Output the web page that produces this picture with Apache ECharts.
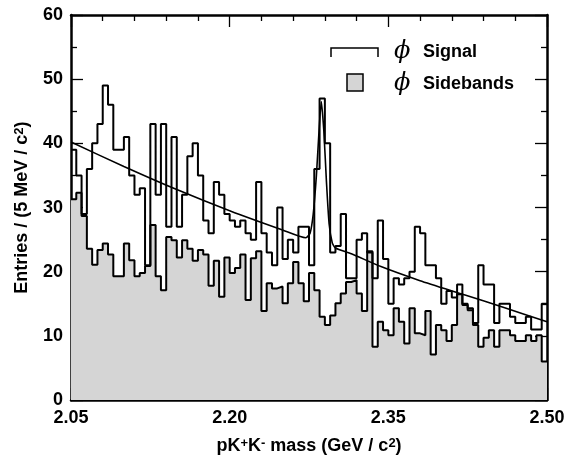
<!DOCTYPE html>
<html><head><meta charset="utf-8">
<script src="https://cdn.jsdelivr.net/npm/echarts@6/dist/echarts.min.js"></script>
<style>html,body{margin:0;padding:0;background:#fff}#c{width:575px;height:460px}</style>
</head><body><div id="c"></div>
<script>
// 5 MeV bins from 2.05 to 2.50 GeV/c^2
const binStart = 2.05;
const binWidth = 0.005;
const signalCounts = [
  39,35,29,36,40,43,49,46,39,39,
  41,35,32,33,21,43,32,43,27,41,
  27,32,38,40,35,28,26,34,32,29,
  28,27,28,26,25,34,26,23,21,30,
  22,25,23,27,27,21,36,47,40,23,
  24,29,19,19,25,26,23,19,28,22,
  15,19,18,19,20,27,26,21,21,19,
  15,17,16,18,15,14,12,21,18,18,
  12,15,15,13,12,12,13,11,11,15
];
const sidebandCounts = [
  31.3,32.3,28.7,23.6,21.1,23.4,24.4,22.7,19.3,19.3,
  24.4,21.8,19.3,19.8,20.9,27.3,19.3,17.1,25.4,24.9,
  22.2,24.9,23.6,21.7,23.4,22.7,17.8,21.7,16.1,22.2,
  19.8,20.6,22.7,15.6,22.1,23.2,13.9,18.2,17.4,17.7,
  15.1,18.2,21.5,18.2,15.4,19.8,17.1,13.0,11.7,13.2,
  15.1,16.6,18.4,18.7,16.6,13.9,23.2,8.3,12.2,10.9,
  10.1,14.3,12.2,8.8,14.3,10.4,10.1,13.9,7.1,11.7,
  10.9,9.2,11.7,16.5,14.8,14.3,11.7,8.3,9.7,10.9,
  8.3,10.9,10.9,10.1,9.2,9.2,10.1,9.2,10.1,6.0
];
// fit curve (mass in GeV/c^2, entries)
const fitMass = [2.050,2.100,2.150,2.200,2.250,2.272,2.276,2.279,2.282,2.2845,2.2866,2.289,2.2915,2.294,2.297,2.300,2.315,2.343,2.380,2.418,2.460,2.500];
const fitValues = [40.2,36.4,32.8,29.5,26.5,25.3,26.0,29.0,35.0,42.0,46.5,42.0,34.0,27.5,24.5,23.7,22.8,20.8,18.6,16.6,14.4,12.2];
const xTickLabels = ['2.05','2.20','2.35','2.50'];
const yTickLabels = ['0','10','20','30','40','50','60'];

const nBins = signalCounts.length;
const toBin = m => (m - binStart) / binWidth;
function histPoints(arr){
  const pts = arr.map((v,i)=>[i,v]);
  pts.push([arr.length, arr[arr.length-1]]);
  return pts;
}
const FONT = 'Liberation Sans, Arial, sans-serif';
const black = '#000';

function xAxisCfg(pos, showLabel){
  return {
    type:'value', position:pos, min:0, max:nBins, interval:30,
    axisLine:{show:true, onZero:false, lineStyle:{color:black, width:2.5}},
    axisTick:{show:true, inside:true, length:12, lineStyle:{color:black, width:1.3}},
    minorTick:{show:true, splitNumber:5, length:6, lineStyle:{color:black, width:1.3}},
    splitLine:{show:false}, minorSplitLine:{show:false},
    axisLabel:{show:showLabel, margin:9, color:black, fontSize:18, fontWeight:'bold', fontFamily:FONT,
      formatter: v => xTickLabels[Math.round(v/30)] || ''}
  };
}
function yAxisCfg(pos, showLabel){
  return {
    type:'value', position:pos, min:0, max:60, interval:10,
    axisLine:{show:true, onZero:false, lineStyle:{color:black, width:2.5}},
    axisTick:{show:true, inside:true, length:12, lineStyle:{color:black, width:1.3}},
    minorTick:{show:true, splitNumber:2, length:6, lineStyle:{color:black, width:1.3}},
    splitLine:{show:false}, minorSplitLine:{show:false},
    axisLabel:{show:showLabel, margin:8, color:black, fontSize:18, fontWeight:'bold', fontFamily:FONT,
      formatter: v => yTickLabels[Math.round(v/10)] || ''}
  };
}
const xa = xAxisCfg('bottom', true);
xa.name = '{n|pK}{s|+}{n|K}{s|-}{n| mass (GeV / c}{s|2}{n|)}';
xa.nameLocation = 'middle';
xa.nameGap = 36;
xa.nameTextStyle = {rich:{
  n:{fontSize:18, fontWeight:'bold', fontFamily:FONT, color:black, verticalAlign:'bottom', lineHeight:18, padding:[5,0,0,0]},
  s:{fontSize:13, fontWeight:'bold', fontFamily:FONT, color:black, verticalAlign:'top', lineHeight:13}
}};
const xt = xAxisCfg('top', false);
const ya = yAxisCfg('left', true);
ya.name = '{n|Entries / (5 MeV / c}{s|2}{n|)}';
ya.nameLocation = 'middle';
ya.nameGap = 40;
ya.nameRotate = 90;
ya.nameTextStyle = {rich:{
  n:{fontSize:18, fontWeight:'bold', fontFamily:FONT, color:black, verticalAlign:'bottom', lineHeight:18, padding:[5,0,0,0]},
  s:{fontSize:13, fontWeight:'bold', fontFamily:FONT, color:black, verticalAlign:'top', lineHeight:13}
}};
const yr = yAxisCfg('right', false);

const chart = echarts.init(document.getElementById('c'), null, {renderer:'canvas'});
chart.setOption({
  animation:false,
  backgroundColor:'#fff',
  grid:{left:67, right:28, top:15, bottom:58, containLabel:false},
  xAxis:[xa, xt],
  yAxis:[ya, yr],
  series:[
    {name:'Sidebands', type:'line', xAxisIndex:0, yAxisIndex:0, step:'end', symbol:'none',
     data:histPoints(sidebandCounts),
     lineStyle:{color:black, width:2}, areaStyle:{color:'#d5d5d5', opacity:1, origin:'start'}, z:2},
    {name:'Signal', type:'line', xAxisIndex:0, yAxisIndex:0, step:'end', symbol:'none',
     data:histPoints(signalCounts),
     lineStyle:{color:black, width:2}, z:3},
    {name:'Fit', type:'line', xAxisIndex:0, yAxisIndex:0, symbol:'none', smooth:0.2,
     data:fitMass.map((m,i)=>[toBin(m), fitValues[i]]),
     lineStyle:{color:black, width:1.6}, z:4}
  ],
  graphic:[
    {type:'polyline', shape:{points:[[331,57],[331,48],[378,48],[378,57]]}, style:{stroke:black, lineWidth:1.5, fill:null}},
    {type:'rect', shape:{x:347, y:74, width:16, height:17}, style:{fill:'#d5d5d5', stroke:black, lineWidth:1.5}},
    {type:'text', x:394, y:52, style:{text:'\u03D5', font:'italic 24px "DejaVu Serif", serif', fill:black, verticalAlign:'middle'}},
    {type:'text', x:394, y:84, style:{text:'\u03D5', font:'italic 24px "DejaVu Serif", serif', fill:black, verticalAlign:'middle'}},
    {type:'text', x:423, y:52, style:{text:'Signal', font:'bold 18px "Liberation Sans", Arial, sans-serif', fill:black, verticalAlign:'middle'}},
    {type:'text', x:423, y:84, style:{text:'Sidebands', font:'bold 18px "Liberation Sans", Arial, sans-serif', fill:black, verticalAlign:'middle'}}
  ]
});
</script></body></html>
